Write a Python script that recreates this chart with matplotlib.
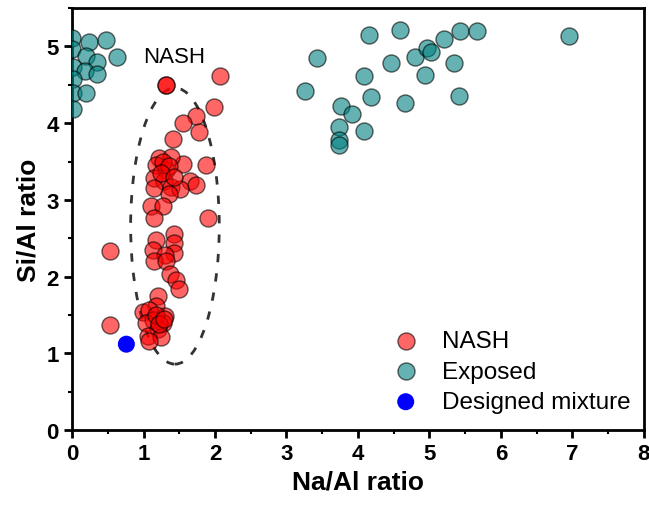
import matplotlib
matplotlib.use("Agg")
import matplotlib.pyplot as plt
from matplotlib.patches import Ellipse
from matplotlib.ticker import MultipleLocator

plt.rcParams['font.family'] = ['Liberation Sans', 'DejaVu Sans']

# NASH points (Na/Al, Si/Al)
nash_x = [1.32, 1.32, 2.07, 1.99, 1.74, 1.55, 1.78, 1.41, 1.88, 1.55, 1.22, 1.39, 1.17,
          1.31, 1.27, 1.35, 1.15, 1.29, 1.65, 1.74, 1.15, 1.39, 1.51, 1.36, 1.25, 1.42,
          1.10, 1.27, 1.15, 1.90, 0.53, 1.17, 1.43, 1.43, 1.13, 1.43, 1.30, 1.15, 1.32,
          1.37, 1.46, 1.49, 1.20, 1.18, 0.99, 1.08, 1.30, 1.13, 1.27, 1.04, 1.20, 1.06,
          1.25, 1.08, 1.18, 1.22, 1.28, 0.53]
nash_y = [4.50, 4.50, 4.62, 4.21, 4.09, 4.00, 3.88, 3.80, 3.46, 3.47, 3.54, 3.56, 3.45,
          3.39, 3.50, 3.44, 3.28, 3.25, 3.25, 3.19, 3.16, 3.17, 3.14, 3.08, 3.35, 3.30,
          2.92, 2.92, 2.77, 2.77, 2.33, 2.48, 2.55, 2.44, 2.35, 2.31, 2.28, 2.20, 2.20,
          2.04, 1.95, 1.84, 1.75, 1.62, 1.54, 1.56, 1.49, 1.43, 1.40, 1.40, 1.32, 1.23,
          1.21, 1.16, 1.50, 1.38, 1.45, 1.37]

# Exposed points
exp_x = [0.00, 0.00, 0.24, 0.48, 0.20, 0.35, 0.63, 0.02, 0.18, 0.35, 0.02, 0.01, 0.20, 0.01,
         3.43, 3.26, 4.15, 4.59, 4.08, 4.46, 4.80, 4.96, 5.02, 5.20, 5.43, 5.67, 5.35, 4.94,
         5.42, 6.96, 4.18, 4.66, 3.77, 3.92, 3.73, 4.09, 3.73, 3.73]
exp_y = [5.11, 4.97, 5.06, 5.08, 4.88, 4.80, 4.86, 4.73, 4.68, 4.64, 4.58, 4.39, 4.39, 4.19,
         4.85, 4.42, 5.15, 5.21, 4.62, 4.79, 4.86, 4.98, 4.93, 5.10, 5.20, 5.20, 4.79, 4.63,
         4.35, 5.13, 4.34, 4.26, 4.23, 4.12, 3.95, 3.90, 3.78, 3.71]

# Designed mixture
des_x = [0.76]
des_y = [1.12]

fig = plt.figure(figsize=(6.49, 5.06), dpi=100)
ax = fig.add_axes([0.111, 0.148, 0.881, 0.834])

ms = 150
ax.scatter(nash_x, nash_y, s=ms, facecolor=(1, 0, 0, 0.6), edgecolor=(0, 0, 0, 0.6),
           linewidth=1, label='NASH', zorder=3)
ax.scatter(exp_x, exp_y, s=ms, facecolor=(0, 0.5, 0.5, 0.6), edgecolor=(0, 0, 0, 0.6),
           linewidth=1, label='Exposed', zorder=3)
ax.scatter(des_x, des_y, s=ms, facecolor='#0000ff', edgecolor='none',
           label='Designed mixture', zorder=4)

ell = Ellipse((1.44, 2.66), width=1.24, height=3.6, angle=0, fill=False,
              edgecolor='#333333', linewidth=2, linestyle=(0, (3, 4)), zorder=2)
ax.add_patch(ell)

ax.text(1.43, 4.87, 'NASH', fontsize=16, ha='center', va='center')

ax.set_xlim(0, 8)
ax.set_ylim(0, 5.5)
ax.xaxis.set_major_locator(MultipleLocator(1))
ax.xaxis.set_minor_locator(MultipleLocator(0.5))
ax.yaxis.set_major_locator(MultipleLocator(1))
ax.yaxis.set_minor_locator(MultipleLocator(0.5))
ax.tick_params(which='major', direction='out', length=6, width=2, labelsize=16)
ax.tick_params(which='minor', direction='out', length=3, width=1.5)
for lab in ax.get_xticklabels() + ax.get_yticklabels():
    lab.set_fontweight('bold')
for sp in ax.spines.values():
    sp.set_linewidth(2)

ax.set_xlabel('Na/Al ratio', fontsize=19, fontweight='bold', labelpad=4)
ax.set_ylabel('Si/Al ratio', fontsize=19, fontweight='bold', labelpad=4)

ax.legend(loc='lower right', bbox_to_anchor=(1.007, 0.0), frameon=False, fontsize=17.5,
          handletextpad=0.5, labelspacing=0.35, borderaxespad=0.3)

fig.savefig('out.png', dpi=100)
